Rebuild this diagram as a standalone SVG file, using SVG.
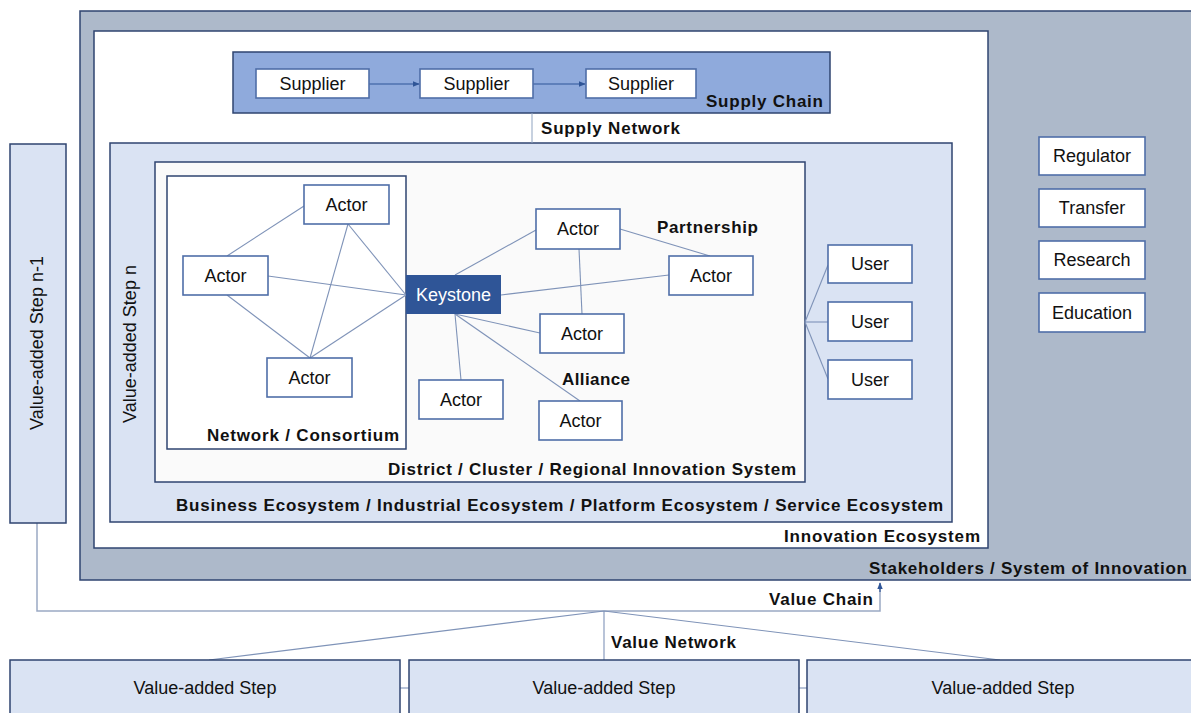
<svg xmlns="http://www.w3.org/2000/svg" width="1191" height="713" viewBox="0 0 1191 713">
  <defs>
    <marker id="arr" viewBox="0 0 10 10" refX="9" refY="5" markerWidth="6" markerHeight="6" orient="auto-start-reverse">
      <path d="M0,1 L10,5 L0,9 Z" fill="#2F5597"/>
    </marker>
    <style>
      .frame { stroke: #2F4470; stroke-width: 1.5; }
      .box { fill: #FFFFFF; stroke: #4F6EA8; stroke-width: 1.6; }
      .lbl { font-family: "Liberation Sans", Arial, sans-serif; font-size: 18px; fill: #111; }
      .bold { font-family: "Liberation Sans", Arial, sans-serif; font-size: 17px; font-weight: bold; fill: #111; }
      .link { stroke: #7F93B8; stroke-width: 1.1; fill: none; }
      .chain { stroke: #9AA9C4; stroke-width: 1.5; fill: none; }
    </style>
  </defs>
  <rect width="1191" height="713" fill="#FFFFFF"/>

  <!-- nested system frames -->
  <g id="stakeholders">
    <rect x="80" y="11" width="1120" height="569" fill="#ADB9CA" class="frame"/>
    <text class="bold" x="1187" y="574" text-anchor="end" textLength="318" lengthAdjust="spacing">Stakeholders / System of Innovation</text>
  </g>
  <g id="innovation-ecosystem">
    <rect x="94" y="31" width="894" height="517" fill="#FFFFFF" class="frame"/>
    <text class="bold" x="980" y="542" text-anchor="end" textLength="196" lengthAdjust="spacing">Innovation Ecosystem</text>
  </g>
  <g id="supply-chain">
    <rect x="233" y="52" width="597" height="61" fill="#8FAADC" class="frame"/>
    <text class="bold" x="823" y="107" text-anchor="end" textLength="117" lengthAdjust="spacing">Supply Chain</text>
  </g>
  <g id="supply-network-label">
    <text class="bold" x="541" y="134" textLength="139" lengthAdjust="spacing">Supply Network</text>
  </g>
  <g id="business-ecosystem">
    <rect x="110" y="143" width="842" height="379" fill="#DAE3F3" class="frame"/>
    <text class="bold" x="943" y="511" text-anchor="end" textLength="767" lengthAdjust="spacing">Business Ecosystem / Industrial Ecosystem / Platform Ecosystem / Service Ecosystem</text>
    <text class="lbl" transform="translate(136,344) rotate(-90)" text-anchor="middle">Value-added Step n</text>
  </g>
  <g id="district">
    <rect x="155" y="162" width="650" height="320" fill="#FAFAFA" class="frame"/>
    <text class="bold" x="796" y="475" text-anchor="end" textLength="408" lengthAdjust="spacing">District / Cluster / Regional Innovation System</text>
  </g>
  <g id="network-consortium">
    <rect x="167" y="176" width="239" height="273" fill="#FFFFFF" class="frame"/>
    <text class="bold" x="399" y="441" text-anchor="end" textLength="192" lengthAdjust="spacing">Network / Consortium</text>
  </g>

  <!-- connectors -->
  <g id="connectors">
    <line x1="532" y1="113" x2="532" y2="143" stroke="#8FA3C0" stroke-width="1"/>
    <line x1="369" y1="84" x2="419" y2="84" stroke="#2F5597" stroke-width="1.2" marker-end="url(#arr)"/>
    <line x1="533" y1="84" x2="585" y2="84" stroke="#2F5597" stroke-width="1.2" marker-end="url(#arr)"/>
    <!-- consortium web -->
    <line class="link" x1="304" y1="206" x2="227" y2="256"/>
    <line class="link" x1="348" y1="224" x2="310" y2="358"/>
    <line class="link" x1="348" y1="224" x2="406" y2="295"/>
    <line class="link" x1="268" y1="276" x2="406" y2="295"/>
    <line class="link" x1="227" y1="295" x2="310" y2="358"/>
    <line class="link" x1="310" y1="358" x2="406" y2="295"/>
    <!-- keystone links -->
    <line class="link" x1="455" y1="275" x2="536" y2="230"/>
    <line class="link" x1="501" y1="295" x2="669" y2="275"/>
    <line class="link" x1="620" y1="229" x2="710" y2="256"/>
    <line class="link" x1="579" y1="249" x2="582" y2="314"/>
    <line class="link" x1="455" y1="314" x2="540" y2="333"/>
    <line class="link" x1="455" y1="314" x2="461" y2="380"/>
    <line class="link" x1="455" y1="314" x2="580" y2="401"/>
    <!-- users -->
    <line class="link" x1="805" y1="322" x2="828" y2="265"/>
    <line class="link" x1="805" y1="322" x2="828" y2="322"/>
    <line class="link" x1="805" y1="322" x2="828" y2="379"/>
    <!-- value chain -->
    <polyline class="chain" points="37,523 37,611 880,611 880,588"/>
    <line x1="880" y1="592" x2="880" y2="583" stroke="#2F5597" stroke-width="1.2" marker-end="url(#arr)"/>
    <!-- value network -->
    <line class="link" x1="604" y1="611" x2="209" y2="660"/>
    <line class="link" x1="604" y1="611" x2="604" y2="660"/>
    <line class="link" x1="604" y1="611" x2="1000" y2="660"/>
    <line class="link" x1="400" y1="688" x2="409" y2="688"/>
    <line class="link" x1="799" y1="688" x2="807" y2="688"/>
  </g>
  <text class="bold" x="873" y="605" text-anchor="end" textLength="104" lengthAdjust="spacing">Value Chain</text>
  <text class="bold" x="611" y="648" textLength="125" lengthAdjust="spacing">Value Network</text>
  <text class="bold" x="657" y="233" textLength="101" lengthAdjust="spacing">Partnership</text>
  <text class="bold" x="562" y="385" textLength="68" lengthAdjust="spacing">Alliance</text>

  <!-- suppliers -->
  <g id="supplier-1"><rect class="box" x="256" y="69" width="113" height="29"/><text class="lbl" x="312.5" y="90" text-anchor="middle">Supplier</text></g>
  <g id="supplier-2"><rect class="box" x="420" y="69" width="113" height="29"/><text class="lbl" x="476.5" y="90" text-anchor="middle">Supplier</text></g>
  <g id="supplier-3"><rect class="box" x="586" y="69" width="110" height="29"/><text class="lbl" x="641" y="90" text-anchor="middle">Supplier</text></g>

  <!-- consortium actors -->
  <g id="actor-c1"><rect class="box" x="304" y="185" width="85" height="39"/><text class="lbl" x="346.5" y="211" text-anchor="middle">Actor</text></g>
  <g id="actor-c2"><rect class="box" x="183" y="256" width="85" height="39"/><text class="lbl" x="225.5" y="282" text-anchor="middle">Actor</text></g>
  <g id="actor-c3"><rect class="box" x="267" y="358" width="85" height="39"/><text class="lbl" x="309.5" y="384" text-anchor="middle">Actor</text></g>

  <!-- keystone and partners -->
  <g id="keystone"><rect x="406" y="275" width="95" height="39" fill="#2F5597"/><text class="lbl" x="453.5" y="301" text-anchor="middle" style="fill:#FFFFFF">Keystone</text></g>
  <g id="actor-p1"><rect class="box" x="536" y="209" width="84" height="40"/><text class="lbl" x="578" y="235" text-anchor="middle">Actor</text></g>
  <g id="actor-p2"><rect class="box" x="669" y="256" width="84" height="39"/><text class="lbl" x="711" y="282" text-anchor="middle">Actor</text></g>
  <g id="actor-p3"><rect class="box" x="540" y="314" width="84" height="39"/><text class="lbl" x="582" y="340" text-anchor="middle">Actor</text></g>
  <g id="actor-a1"><rect class="box" x="419" y="380" width="84" height="39"/><text class="lbl" x="461" y="406" text-anchor="middle">Actor</text></g>
  <g id="actor-a2"><rect class="box" x="539" y="401" width="83" height="39"/><text class="lbl" x="580.5" y="427" text-anchor="middle">Actor</text></g>

  <!-- users -->
  <g id="user-1"><rect class="box" x="828" y="245" width="84" height="38"/><text class="lbl" x="870" y="270" text-anchor="middle">User</text></g>
  <g id="user-2"><rect class="box" x="828" y="302" width="84" height="39"/><text class="lbl" x="870" y="328" text-anchor="middle">User</text></g>
  <g id="user-3"><rect class="box" x="828" y="360" width="84" height="39"/><text class="lbl" x="870" y="386" text-anchor="middle">User</text></g>

  <!-- stakeholders -->
  <g id="regulator"><rect class="box" x="1039" y="137" width="106" height="38"/><text class="lbl" x="1092" y="162" text-anchor="middle">Regulator</text></g>
  <g id="transfer"><rect class="box" x="1039" y="189" width="106" height="38"/><text class="lbl" x="1092" y="214" text-anchor="middle">Transfer</text></g>
  <g id="research"><rect class="box" x="1039" y="241" width="106" height="38"/><text class="lbl" x="1092" y="266" text-anchor="middle">Research</text></g>
  <g id="education"><rect class="box" x="1039" y="293" width="106" height="39"/><text class="lbl" x="1092" y="319" text-anchor="middle">Education</text></g>

  <!-- value-added steps -->
  <g id="step-n-1">
    <rect x="10" y="144" width="56" height="379" fill="#DAE3F3" class="frame"/>
    <text class="lbl" transform="translate(43,343) rotate(-90)" text-anchor="middle">Value-added Step n-1</text>
  </g>
  <g id="step-1"><rect x="10" y="660" width="390" height="70" fill="#DAE3F3" class="frame"/><text class="lbl" x="205" y="694" text-anchor="middle">Value-added Step</text></g>
  <g id="step-2"><rect x="409" y="660" width="390" height="70" fill="#DAE3F3" class="frame"/><text class="lbl" x="604" y="694" text-anchor="middle">Value-added Step</text></g>
  <g id="step-3"><rect x="807" y="660" width="400" height="70" fill="#DAE3F3" class="frame"/><text class="lbl" x="1003" y="694" text-anchor="middle">Value-added Step</text></g>
</svg>
